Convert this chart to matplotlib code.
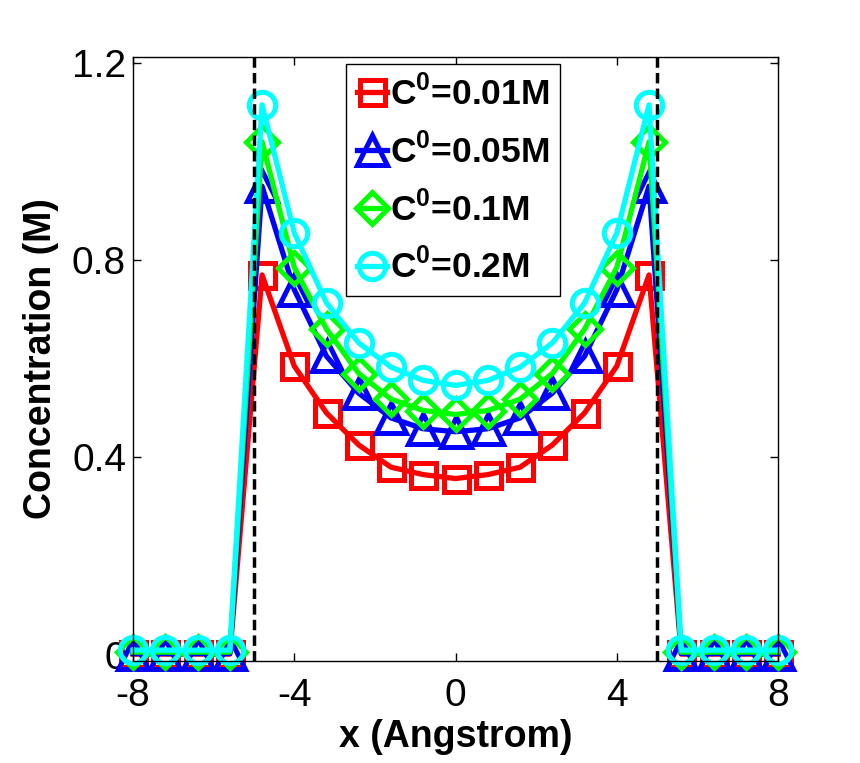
import matplotlib
matplotlib.use('Agg')
import matplotlib.pyplot as plt

plt.rcParams['font.family'] = ['Liberation Sans', 'DejaVu Sans']
plt.rcParams['mathtext.fontset'] = 'custom'
plt.rcParams['mathtext.rm'] = 'Liberation Sans'
plt.rcParams['mathtext.bf'] = 'Liberation Sans:bold'
plt.rcParams['axes.unicode_minus'] = False

x = [-8.0, -7.2, -6.4, -5.6, -4.8, -4.0, -3.2, -2.4, -1.6, -0.8, 0.0,
     0.8, 1.6, 2.4, 3.2, 4.0, 4.8, 5.6, 6.4, 7.2, 8.0]

c_001 = [0.001, 0.001, 0.001, 0.001, 0.77, 0.585, 0.49, 0.425, 0.38, 0.365, 0.357,
         0.365, 0.38, 0.425, 0.49, 0.585, 0.77, 0.001, 0.001, 0.001, 0.001]
c_005 = [0.002, 0.002, 0.002, 0.002, 0.95, 0.74, 0.605, 0.53, 0.48, 0.458, 0.452,
         0.458, 0.48, 0.53, 0.605, 0.74, 0.95, 0.002, 0.002, 0.002, 0.002]
c_01 = [0.005, 0.005, 0.005, 0.005, 1.04, 0.785, 0.66, 0.57, 0.518, 0.495, 0.487,
        0.495, 0.518, 0.57, 0.66, 0.785, 1.04, 0.005, 0.005, 0.005, 0.005]
c_02 = [0.009, 0.009, 0.009, 0.009, 1.115, 0.855, 0.713, 0.632, 0.583, 0.556, 0.546,
        0.556, 0.583, 0.632, 0.713, 0.855, 1.115, 0.009, 0.009, 0.009, 0.009]

labels = [r'C$^{\mathbf{0}}$=0.01M', r'C$^{\mathbf{0}}$=0.05M',
          r'C$^{\mathbf{0}}$=0.1M', r'C$^{\mathbf{0}}$=0.2M']
walls = [-5.0, 5.0]

fig = plt.figure(figsize=(8.6, 7.63), dpi=100)
ax = fig.add_axes([0.1547, 0.1337, 0.75, 0.7916])

series = [
    (c_001, 'red', 's', 18),
    (c_005, 'blue', '^', 21),
    (c_01, 'lime', 'D', 16),
    (c_02, 'cyan', 'o', 19),
]
for (y, color, marker, ms), label in zip(series, labels):
    ax.plot(x, y, color=color, marker=marker, markersize=ms,
            markerfacecolor='none', markeredgewidth=3.6, linewidth=3.8,
            label=label, clip_on=False)

for w in walls:
    ax.axvline(w, color='black', linestyle=(0, (3, 1.5)), linewidth=2.5, zorder=5)

ax.set_xlim(-8, 8)
ax.set_ylim(-0.013, 1.212)
ax.set_xticks([-8, -4, 0, 4, 8])
ax.set_yticks([0, 0.4, 0.8, 1.2])
ax.set_yticklabels(['0', '0.4', '0.8', '1.2'])
ax.tick_params(direction='in', length=6, width=1, labelsize=28,
               top=True, right=True, pad=5)
ax.tick_params(axis='x', pad=12)
for sp in ax.spines.values():
    sp.set_linewidth(1)

ax.set_xlabel('x (Angstrom)', fontsize=27, fontweight='bold', labelpad=4)
ax.set_ylabel('Concentration (M)', fontsize=27, fontweight='bold', labelpad=9)

leg = ax.legend(loc='upper left', bbox_to_anchor=(346 / 860, 1 - 64 / 763),
                bbox_transform=fig.transFigure, borderaxespad=0,
                fancybox=False, framealpha=1, edgecolor='black',
                prop={'size': 25.5, 'weight': 'bold'}, handlelength=0.85,
                handletextpad=0.1, labelspacing=0.58, borderpad=0.3)
leg.get_frame().set_linewidth(1)

fig.savefig('out.png', dpi=100)
